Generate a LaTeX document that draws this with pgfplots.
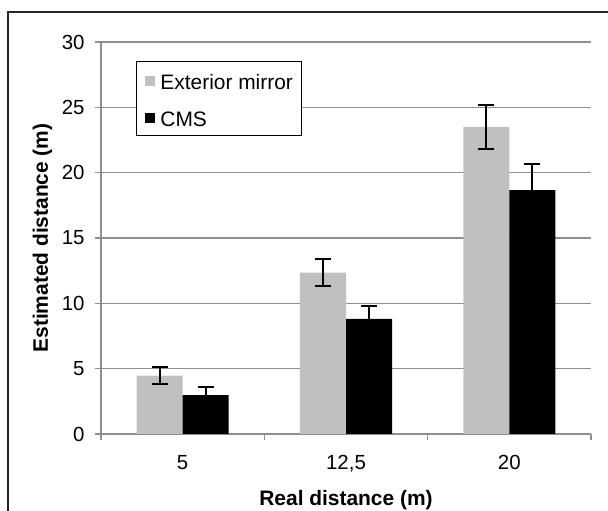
\documentclass[border=0pt]{standalone}
\usepackage{pgfplots}
\pgfplotsset{compat=1.18}
\usepackage{fontspec}
\setmainfont{Liberation Sans}

\definecolor{barlight}{HTML}{C0C0C0}
\definecolor{axisgray}{HTML}{8E8E8E}

\begin{document}
\begin{tikzpicture}
\useasboundingbox (0,0) rectangle (608bp,511bp);
\draw[line width=1.2bp, black!85] (8bp,0) |- (608bp,499bp);
\begin{axis}[
    at={(101bp,77bp)}, anchor=south west,
    scale only axis,
    width=490bp, height=392bp,
    xmin=-0.5, xmax=2.5,
    ymin=0, ymax=30,
    ytick={0,5,...,30},
    xtick={-0.5,0.5,1.5,2.5},
    x tick label as interval,
    xticklabels={5,{12,5},20},
    axis lines=left,
    axis line style={-, axisgray, line width=1.2bp},
    tick style={axisgray, line width=1.2bp},
    tick align=outside,
    major tick length=6bp,
    ymajorgrids,
    grid style={axisgray, line width=1.2bp},
    /pgf/number format/assume math mode=true,
    tick label style={font=\fontsize{20.5}{24}\selectfont},
    yticklabel style={xshift=-7bp},
    xticklabel style={yshift=-12bp},
    ylabel={Estimated distance (m)},
    xlabel={Real distance (m)},
    every axis x label/.style={at={(rel axis cs:0.5,0)}, anchor=base, yshift=-71bp,
        font=\fontsize{21}{24}\selectfont\bfseries},
    every axis y label/.style={at={(rel axis cs:0,0.5)}, anchor=base, rotate=90, yshift=53bp,
        font=\fontsize{21}{24}\selectfont\bfseries},
    ybar=0pt,
    bar width=0.282,
    legend style={at={(0.0714,0.9515)}, anchor=north west,
        font=\fontsize{21}{24}\selectfont, draw=black, line width=0.9bp,
        fill=white, inner xsep=9bp, inner ysep=3bp, row sep=6bp,
        nodes={inner sep=0pt, text height=25bp, text depth=6bp},
        /tikz/every odd column/.append style={column sep=5bp}},
    legend cell align=left,
    legend image code/.code={\path[#1] (0bp,-6bp) rectangle (10bp,3.5bp);},
    error bars/error bar style={black, line width=1.8bp},
    error bars/error mark options={black, line width=1.8bp, mark size=8bp, rotate=90},
]
\addplot[fill=barlight, draw=none,
    error bars/.cd, y dir=both, y explicit]
    coordinates {(0,4.46) +- (0,0.66) (1,12.35) +- (0,1.02) (2,23.5) +- (0,1.68)};
\addplot[fill=black, draw=none,
    error bars/.cd, y dir=both, y explicit]
    coordinates {(0,2.98) +- (0,0.62) (1,8.82) +- (0,1.0) (2,18.67) +- (0,2.0)};
\legend{Exterior mirror, CMS}
\end{axis}
\end{tikzpicture}
\end{document}
